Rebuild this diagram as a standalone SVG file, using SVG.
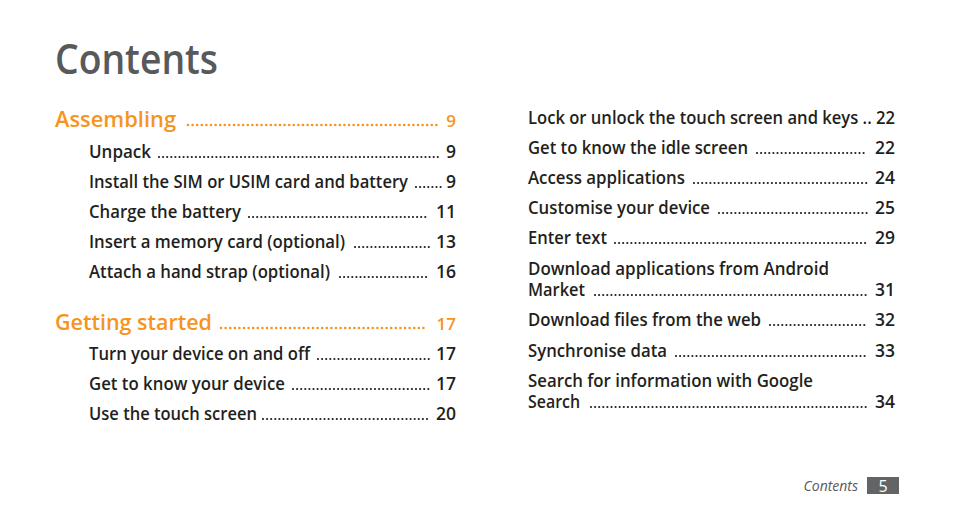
<svg xmlns="http://www.w3.org/2000/svg" width="954" height="518" viewBox="0 0 954 518">
<style>
text{font-family:"Open Sans","Liberation Sans",sans-serif}
.t{font-size:17.5px;font-weight:600;fill:#231f20}
.h{font-size:22px;font-weight:600;fill:#f7941d}
.hn{font-size:17px;font-weight:600;fill:#f7941d}
.n{text-anchor:end}
.d{stroke:#231f20;stroke-width:2.2;stroke-linecap:round;stroke-dasharray:0 4.1}
.dh{stroke:#f7941d;stroke-width:2.6;stroke-linecap:round;stroke-dasharray:0 4.6}
</style>
<rect width="954" height="518" fill="#fff"/>
<text x="55" y="74" font-size="42" font-weight="600" fill="#58595b" textLength="163" lengthAdjust="spacingAndGlyphs">Contents</text>

<text class="h" x="55" y="127" textLength="121" lengthAdjust="spacingAndGlyphs">Assembling</text>
<line class="dh" x1="188" y1="125" x2="437" y2="125"/>
<text class="hn n" x="456" y="127">9</text>
<text class="t" x="89" y="158" textLength="62" lengthAdjust="spacingAndGlyphs">Unpack</text>
<line class="d" x1="159" y1="157" x2="441" y2="157"/><text class="t n" x="456" y="158">9</text>
<text class="t" x="89" y="188" textLength="319" lengthAdjust="spacingAndGlyphs">Install the SIM or USIM card and battery</text>
<line class="d" x1="416" y1="187" x2="441" y2="187"/><text class="t n" x="456" y="188">9</text>
<text class="t" x="89" y="218" textLength="152" lengthAdjust="spacingAndGlyphs">Charge the battery</text>
<line class="d" x1="249" y1="217" x2="429" y2="217"/><text class="t n" x="456" y="218">11</text>
<text class="t" x="89" y="248" textLength="256" lengthAdjust="spacingAndGlyphs">Insert a memory card (optional)</text>
<line class="d" x1="355" y1="247" x2="429" y2="247"/><text class="t n" x="456" y="248">13</text>
<text class="t" x="89" y="278" textLength="241" lengthAdjust="spacingAndGlyphs">Attach a hand strap (optional)</text>
<line class="d" x1="340" y1="277" x2="429" y2="277"/><text class="t n" x="456" y="278">16</text>

<text class="h" x="55" y="330" textLength="157" lengthAdjust="spacingAndGlyphs">Getting started</text>
<line class="dh" x1="221" y1="328" x2="427" y2="328"/>
<text class="hn n" x="456" y="330">17</text>
<text class="t" x="89" y="360" textLength="221" lengthAdjust="spacingAndGlyphs">Turn your device on and off</text>
<line class="d" x1="318" y1="359" x2="429" y2="359"/><text class="t n" x="456" y="360">17</text>
<text class="t" x="89" y="390" textLength="196" lengthAdjust="spacingAndGlyphs">Get to know your device</text>
<line class="d" x1="293" y1="389" x2="429" y2="389"/><text class="t n" x="456" y="390">17</text>
<text class="t" x="89" y="420" textLength="168" lengthAdjust="spacingAndGlyphs">Use the touch screen</text>
<line class="d" x1="263" y1="419" x2="429" y2="419"/><text class="t n" x="456" y="420">20</text>

<text class="t" x="528" y="124" textLength="367" lengthAdjust="spacingAndGlyphs">Lock or unlock the touch screen and keys .. 22</text>
<text class="t" x="528" y="154" textLength="220" lengthAdjust="spacingAndGlyphs">Get to know the idle screen</text>
<line class="d" x1="757" y1="153" x2="867" y2="153"/><text class="t n" x="895" y="154">22</text>
<text class="t" x="528" y="184" textLength="157" lengthAdjust="spacingAndGlyphs">Access applications</text>
<line class="d" x1="694" y1="183" x2="867" y2="183"/><text class="t n" x="895" y="184">24</text>
<text class="t" x="528" y="214" textLength="182" lengthAdjust="spacingAndGlyphs">Customise your device</text>
<line class="d" x1="719" y1="213" x2="867" y2="213"/><text class="t n" x="895" y="214">25</text>
<text class="t" x="528" y="244" textLength="79" lengthAdjust="spacingAndGlyphs">Enter text</text>
<line class="d" x1="615" y1="243" x2="867" y2="243"/><text class="t n" x="895" y="244">29</text>
<text class="t" x="528" y="275" textLength="301" lengthAdjust="spacingAndGlyphs">Download applications from Android</text>
<text class="t" x="528" y="296" textLength="57" lengthAdjust="spacingAndGlyphs">Market</text>
<line class="d" x1="595" y1="295" x2="867" y2="295"/><text class="t n" x="895" y="296">31</text>
<text class="t" x="528" y="326" textLength="233" lengthAdjust="spacingAndGlyphs">Download files from the web</text>
<line class="d" x1="770" y1="325" x2="867" y2="325"/><text class="t n" x="895" y="326">32</text>
<text class="t" x="528" y="357" textLength="139" lengthAdjust="spacingAndGlyphs">Synchronise data</text>
<line class="d" x1="676" y1="356" x2="867" y2="356"/><text class="t n" x="895" y="357">33</text>
<text class="t" x="528" y="387" textLength="285" lengthAdjust="spacingAndGlyphs">Search for information with Google</text>
<text class="t" x="528" y="408" textLength="52" lengthAdjust="spacingAndGlyphs">Search</text>
<line class="d" x1="591" y1="407" x2="867" y2="407"/><text class="t n" x="895" y="408">34</text>

<text x="858" y="491" font-size="14" font-style="italic" fill="#58595b" text-anchor="end">Contents</text>
<rect x="867" y="477" width="32" height="17" fill="#636466"/>
<text x="883" y="492" font-size="16" fill="#fff" text-anchor="middle">5</text>
</svg>
